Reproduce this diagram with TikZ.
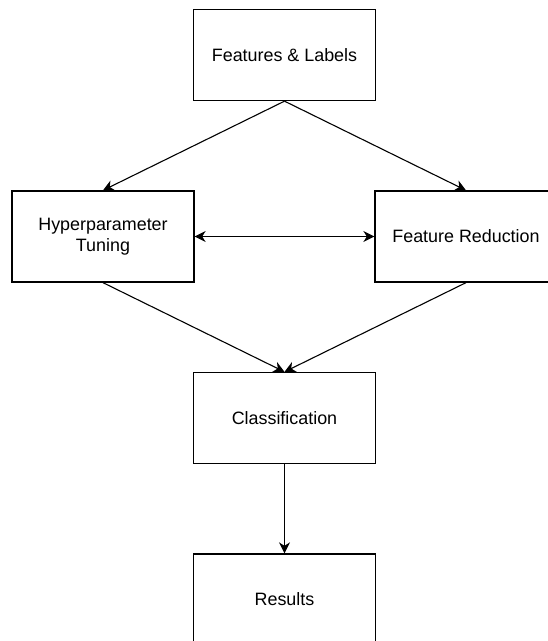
\documentclass[tikz,border=0pt]{standalone}
\usepackage{fontspec}
\setmainfont{Liberation Sans}
\usetikzlibrary{arrows.meta}
\begin{document}
\begin{tikzpicture}[x=1pt,y=1pt]
    \def\dx{181.5pt}
    \def\dy{181.5pt}

    \clip (-284.5,55) rectangle (263.5,-586);

    \tikzstyle{stage}=[draw=black,line width=1.3pt,minimum width=182pt,minimum height=91pt,inner sep=0pt,align=center,font=\fontsize{17.9}{21}\selectfont]

    \node[stage]  (feat) at (0*\dx,0*\dy) {Features \& Labels};
    \node[stage]  (tune) at (-1*\dx,-1*\dy) {Hyperparameter\\ Tuning};
    \node[stage]  (red) at (1*\dx,-1*\dy) {Feature Reduction};
    \node[stage]  (cls) at (0*\dx,-2*\dy) {Classification};
    \node[stage]  (res) at (0*\dx,-3*\dy) {Results};

    \tikzstyle{fwd} = [draw=black, line width=1.1pt, -{Stealth[length=11pt,width=11pt,inset=3.5pt]}]
    \tikzstyle{both} = [draw=black, line width=1.1pt, {Stealth[length=11pt,width=11pt,inset=3.5pt]}-{Stealth[length=11pt,width=11pt,inset=3.5pt]}]

          \draw [fwd] (feat.south) -- (tune.north);
          \draw [fwd] (feat.south) -- (red.north);
          \draw [both] (tune) -- (red);
          \draw [fwd] (tune.south) -- (cls.north);
          \draw [fwd] (red.south) -- (cls.north);
          \draw [fwd] (cls) -- (res);

\end{tikzpicture}
\end{document}
